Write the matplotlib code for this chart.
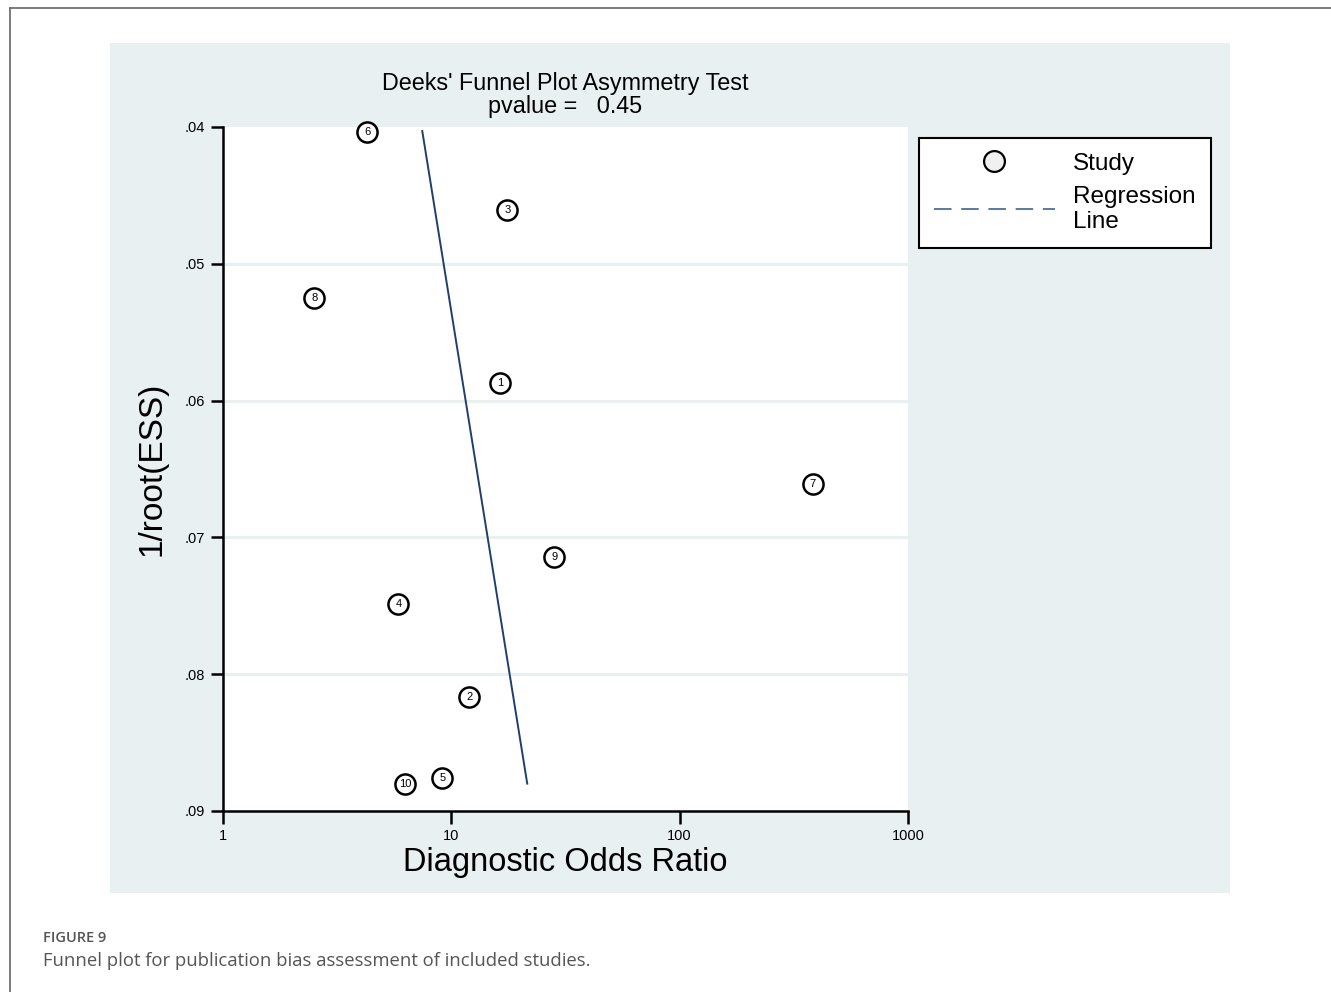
import matplotlib.pyplot as plt
from matplotlib.lines import Line2D
from matplotlib.patches import Rectangle

plt.rcParams['font.family'] = ['Liberation Sans', 'DejaVu Sans']

# study estimates: diagnostic odds ratio vs 1/sqrt(effective sample size)
study_ids = ['1', '2', '3', '4', '5', '6', '7', '8', '9', '10']
dor = [16.4, 12.0, 17.6, 5.86, 9.13, 4.28, 383.0, 2.51, 28.3, 6.29]
inv_root_ess = [0.0587, 0.0817, 0.0461, 0.0749, 0.0876, 0.0404, 0.0661, 0.0525, 0.0714, 0.0880]

# fitted regression line end points
reg_x = [7.46, 21.5]
reg_y = [0.0403, 0.0880]

pvalue = 0.45
y_ticks = [0.04, 0.05, 0.06, 0.07, 0.08, 0.09]
y_ticklabels = ['.04', '.05', '.06', '.07', '.08', '.09']
x_ticks = [1, 10, 100, 1000]

panel_bg = '#e9f0f2'
line_col = '#1f3f6e'

fig = plt.figure(figsize=(13.31, 9.92), dpi=100)

# page frame and caption
fig.add_artist(Line2D([10 / 1331, 1], [1 - 8 / 992, 1 - 8 / 992], color='#666666', lw=1.2))
fig.add_artist(Line2D([10 / 1331, 10 / 1331], [0, 1 - 8 / 992], color='#666666', lw=1.2))
fig.add_artist(Rectangle((110 / 1331, 1 - 893 / 992), 1120 / 1331, 850 / 992,
                         facecolor=panel_bg, edgecolor='none', zorder=0))
fig.text(43 / 1331, 1 - 938 / 992, 'FIGURE 9', fontsize=10.5, color='#555555',
         family=['Open Sans', 'DejaVu Sans'], fontweight='semibold', va='center')
fig.text(43 / 1331, 1 - 961 / 992, 'Funnel plot for publication bias assessment of included studies.',
         fontsize=13.3, color='#555555', family=['Open Sans', 'DejaVu Sans'], va='center')

ax = fig.add_axes([223 / 1331, 1 - 811 / 992, 685 / 1331, 684 / 992])
ax.set_facecolor('white')
ax.set_xscale('log')
ax.set_xlim(1, 1000)
ax.set_ylim(0.09, 0.04)

for y in y_ticks[1:-1]:
    ax.axhline(y, color=panel_bg, lw=2.2, zorder=0)

ax.plot(reg_x, reg_y, color=line_col, lw=1.4, zorder=2)
ax.scatter(dor, inv_root_ess, s=210, facecolor='white', edgecolor='black', linewidths=1.8,
           zorder=3, clip_on=False)
for sid, x, y in zip(study_ids, dor, inv_root_ess):
    ax.text(x, y, sid, ha='center', va='center', fontsize=8, zorder=4)

for side in ['top', 'right']:
    ax.spines[side].set_visible(False)
for side in ['left', 'bottom']:
    ax.spines[side].set_linewidth(1.8)

ax.set_yticks(y_ticks)
ax.set_yticklabels(y_ticklabels)
ax.set_xticks(x_ticks)
ax.set_xticklabels([str(t) for t in x_ticks])
ax.minorticks_off()
ax.tick_params(axis='both', length=9, width=1.8, labelsize=10.5, pad=4)

ax.set_xlabel('Diagnostic Odds Ratio', fontsize=23.5, labelpad=3)
ax.set_ylabel('1/root(ESS)', fontsize=24, labelpad=12)
ax.set_title("Deeks' Funnel Plot Asymmetry Test\npvalue =   %.2f" % pvalue,
             fontsize=16.8, linespacing=0.98, pad=10)

# legend box
handles = [
    Line2D([], [], marker='o', linestyle='none', markersize=15, markerfacecolor='#f0f0f0',
           markeredgecolor='black', markeredgewidth=1.6, label='Study'),
    Line2D([], [], color='#5a7aa0', lw=1.4, dashes=(9, 5), label='Regression\nLine'),
]
leg = fig.legend(handles=handles, loc='upper left', bbox_to_anchor=(919 / 1331, 1 - 138 / 992),
                 fontsize=17.5, frameon=True, fancybox=False, edgecolor='black', framealpha=1,
                 handlelength=5.0, handletextpad=0.75, borderpad=0.6, labelspacing=0.45,
                 borderaxespad=0)
leg.get_frame().set_linewidth(1.5)

fig.savefig('out.png', dpi=100)
